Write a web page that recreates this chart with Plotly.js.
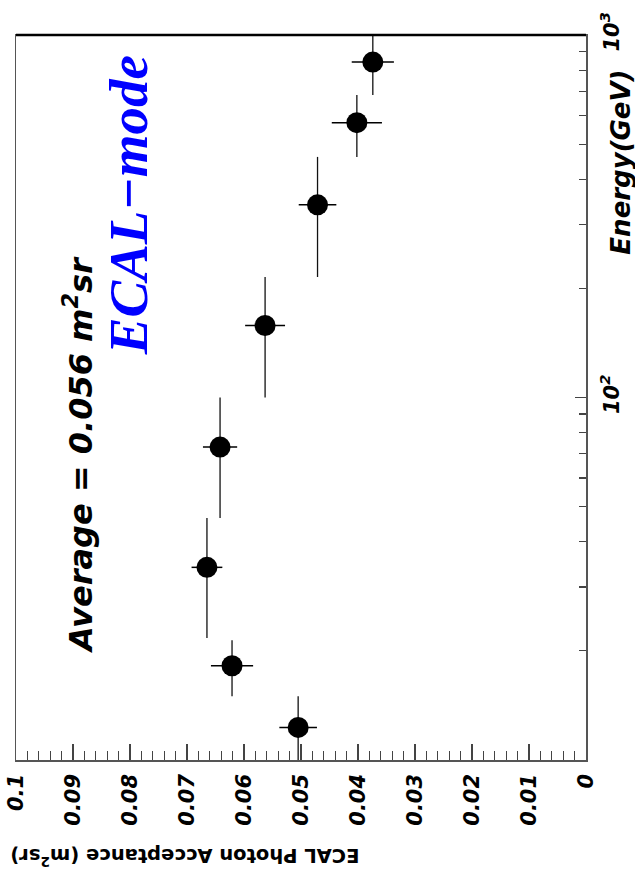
<!DOCTYPE html>
<html>
<head>
<meta charset="utf-8">
<script src="https://cdn.plot.ly/plotly-3.0.1.min.js"></script>
<style>body{margin:0;padding:0;background:#fff;}</style>
</head>
<body>
<div id="chart" style="width:635px;height:881px;"></div>
<script>
// Energy bin centres (GeV) and bin edges
const energy = [12.3, 18.2, 34.0, 73, 158, 340, 573, 842];
const energyLow = [10, 15, 21.7, 46.5, 100, 215, 461, 683];
const energyHigh = [15, 21.4, 46.5, 100, 215, 461, 683, 1000];
// ECAL photon acceptance (m^2 sr) and its error
const acceptance = [0.0505, 0.0621, 0.0665, 0.0642, 0.0563, 0.0471, 0.0402, 0.0374];
const acceptanceErr = [0.0033, 0.0037, 0.0027, 0.0030, 0.0035, 0.0033, 0.0044, 0.0037];
// tick labels
const accTicks = [0, 0.01, 0.02, 0.03, 0.04, 0.05, 0.06, 0.07, 0.08, 0.09, 0.1];
const accTickText = ['0', '0.01', '0.02', '0.03', '0.04', '0.05', '0.06', '0.07', '0.08', '0.09', '0.1'];
const eTicks = [100, 1000];
const eTickText = ['10<sup>2</sup>', '10<sup>3</sup>'];
const eMinor = [20, 30, 40, 50, 60, 70, 80, 90, 200, 300, 400, 500, 600, 700, 800, 900];

const errPlus = energy.map((e, i) => energyHigh[i] - e);
const errMinus = energy.map((e, i) => e - energyLow[i]);

const trace = {
  type: 'scatter', mode: 'markers',
  x: acceptance, y: energy,
  marker: {color: '#000', size: 21},
  error_x: {type: 'data', array: acceptanceErr, visible: true, color: '#000', thickness: 1.5, width: 0},
  error_y: {type: 'data', symmetric: false, array: errPlus, arrayminus: errMinus, visible: true, color: '#111', thickness: 1.3, width: 0},
  showlegend: false, hoverinfo: 'skip'
};

const lblFont = {family: '"DejaVu Sans", Arial, sans-serif', size: 21, color: '#000', weight: 'bold', style: 'italic'};

const layout = {
  width: 635, height: 881,
  margin: {l: 16, r: 49, t: 35, b: 121},
  paper_bgcolor: '#fff', plot_bgcolor: '#fff',
  xaxis: {
    range: [0.1, 0], showgrid: false, zeroline: false,
    showline: true, linecolor: '#555', linewidth: 1.5, mirror: true,
    ticks: 'inside', ticklen: 16, tickwidth: 1.2, tickcolor: '#444',
    tickvals: accTicks, ticktext: accTickText, tickangle: -90,
    tickfont: lblFont, ticklabelstandoff: 4,
    minor: {ticks: 'inside', ticklen: 9, tickwidth: 1.2, tickcolor: '#444', dtick: 0.002, showgrid: false}
  },
  yaxis: {
    type: 'log', range: [1, 3], side: 'right', showgrid: false, zeroline: false,
    showline: true, linecolor: '#555', linewidth: 1.5, mirror: true,
    ticks: 'inside', ticklen: 11, tickwidth: 1.2, tickcolor: '#444',
    tickvals: eTicks, ticktext: eTickText, tickangle: -90,
    tickfont: lblFont, ticklabelstandoff: 6,
    minor: {ticks: 'inside', ticklen: 7, tickwidth: 1.2, tickcolor: '#444', tickvals: eMinor, showgrid: false}
  },
  shapes: [
    {type: 'line', xref: 'paper', yref: 'paper', x0: 0, x1: 1, y0: 1, y1: 1, line: {color: '#000', width: 2.5}}
  ],
  annotations: [
    {xref: 'paper', yref: 'paper', x: 0.109, y: 0.421, xanchor: 'center', yanchor: 'middle',
     text: 'Average = 0.056 m<sup>2</sup>sr', textangle: -90, showarrow: false,
     font: {family: '"DejaVu Sans", Arial, sans-serif', size: 32, color: '#000', weight: 'bold', style: 'italic'}},
    {xref: 'paper', yref: 'paper', x: 0.198, y: 0.765, xanchor: 'center', yanchor: 'middle',
     text: 'ECAL\u2212mode', textangle: -90, showarrow: false,
     font: {family: '"Liberation Serif", "Times New Roman", serif', size: 55, color: '#0000ff', weight: 'bold', style: 'italic'}},
    {xref: 'paper', yref: 'paper', x: 1.061, y: 0.825, xanchor: 'center', yanchor: 'middle',
     text: 'Energy(GeV)', textangle: -90, showarrow: false,
     font: {family: '"DejaVu Sans", Arial, sans-serif', size: 26, color: '#000', weight: 'bold', style: 'italic'}},
    {xref: 'paper', yref: 'paper', x: 0.296, y: -0.134, xanchor: 'center', yanchor: 'middle',
     text: 'ECAL Photon Acceptance (m<sup>2</sup>sr)', textangle: 180, showarrow: false,
     font: {family: '"DejaVu Sans", Arial, sans-serif', size: 19.5, color: '#000', weight: 'bold'}}
  ]
};

Plotly.newPlot('chart', [trace], layout, {staticPlot: true, displayModeBar: false});
</script>
</body>
</html>
